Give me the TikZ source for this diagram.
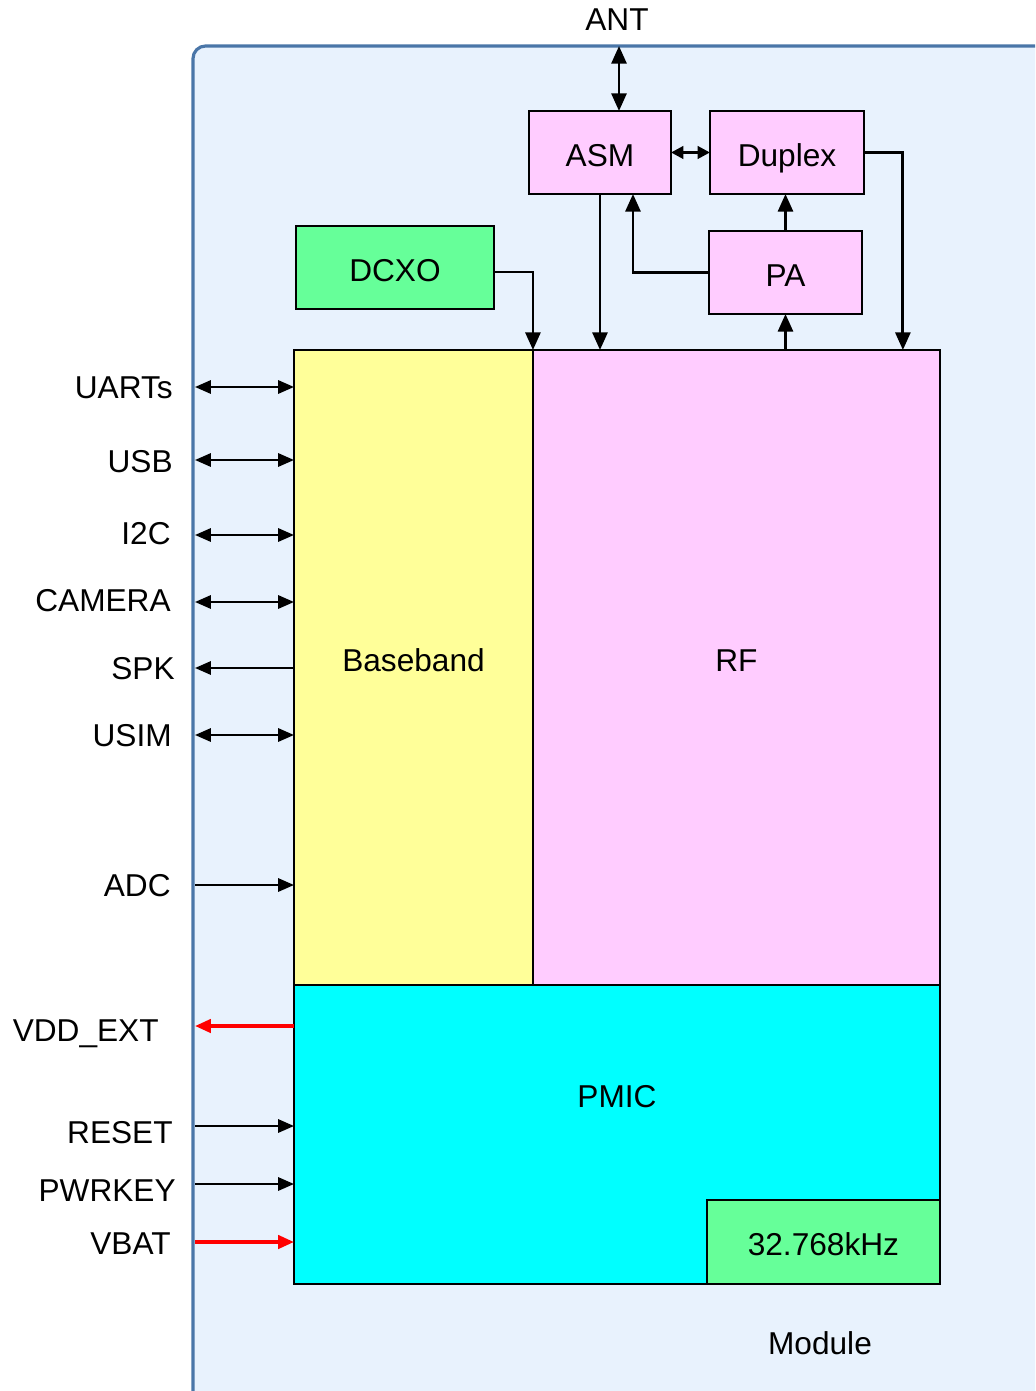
\documentclass[tikz,border=0pt]{standalone}
\usepackage{fontspec}
\setmainfont{Liberation Sans}
\usepackage{xcolor}
\usepackage{tikz}
\usetikzlibrary{arrows.meta,positioning,calc}
\definecolor{modfill}{HTML}{E8F2FD}
\definecolor{modline}{HTML}{4A76A8}
\definecolor{bbyel}{HTML}{FFFF99}
\definecolor{rfpink}{HTML}{FFCCFF}
\definecolor{xogreen}{HTML}{66FF99}
\definecolor{pmcyan}{HTML}{00FFFF}

\begin{document}
\begin{tikzpicture}[x=0.02cm,y=-0.02cm,font=\fontsize{18}{22}\selectfont]
        \tikzstyle{blk}=[draw,line width=0.8pt,outer sep=0pt,inner sep=0pt]
        \tikzstyle{sm}=[blk,fill=rfpink,minimum height=1.66cm,anchor=north west,text height=0.555cm,text depth=0pt]
        \tikzstyle{ar}=[line width=1.6pt,-{Triangle[length=10pt,width=8.5pt]}]
        \tikzstyle{dar}=[line width=1.6pt,{Triangle[length=10pt,width=8.5pt]}-{Triangle[length=10pt,width=8.5pt]}]
        \tikzstyle{la}=[line width=1.3pt,-{Triangle[length=9pt,width=7.5pt]}]
        \tikzstyle{dla}=[line width=1.3pt,{Triangle[length=9pt,width=7.5pt]}-{Triangle[length=9pt,width=7.5pt]}]
        \tikzstyle{pw}=[line width=2pt,red,-{Triangle[length=9pt,width=7.5pt]}]
        \tikzstyle{sig}=[anchor=base east,inner sep=0pt]
        \path[use as bounding box] (0,0) rectangle (1035,1391);
        \clip (0,0) rectangle (1035,1391);
        % module frame (runs off the page at right and bottom)
        \node[draw=modline,fill=modfill,line width=1.8pt,rounded corners=0.25cm,anchor=north west,
              minimum width=17.6cm,minimum height=27.8cm,outer sep=0pt] (mod) at (193,46) {};
        \node (modl) at (820,1343) {Module};
        % chip blocks
        \node[blk,fill=bbyel,anchor=north west,minimum width=4.78cm,minimum height=12.7cm,
              text height=0.455cm,text depth=0.28cm] (bb) at (294,350) {Baseband};
        \node[blk,fill=rfpink,right=0pt of bb,minimum width=8.14cm,minimum height=12.7cm,
              text height=0.455cm,text depth=0.28cm] (rf) {RF};
        \node[blk,fill=pmcyan,anchor=north west,minimum width=12.92cm,minimum height=5.98cm] (pmic) at (bb.south west) {};
        \node (pmicl) at (617,1097) {PMIC};
        \node[blk,fill=xogreen,anchor=south east,minimum width=4.66cm,minimum height=1.68cm,
              text height=0.555cm,text depth=0pt] (khz) at (pmic.south east) {32.768kHz};
        \node[sm,fill=xogreen,minimum width=3.96cm] (dcxo) at (296,226) {DCXO};
        \node[sm,minimum width=2.84cm] (asm) at (529,111) {ASM};
        \node[sm,minimum width=3.08cm] (dup) at (710,111) {Duplex};
        \node[sm,minimum width=3.06cm] (pa) at (709,231) {PA};
        % RF front end
        \node (ant) at (617,20) {ANT};
        \coordinate (antp) at (619,46);
        \draw[dar] (antp) -- (antp |- asm.north);
        \draw[line width=1.6pt,{Triangle[length=7pt,width=7pt]}-{Triangle[length=7pt,width=7pt]}] (asm.east) -- (dup.west);
        \draw[ar] (asm.south) -- (asm.south |- rf.north);
        \draw[ar] (pa.west) -| ([xshift=0.66cm]asm.south);
        \draw[ar] (pa.north) -- (pa.north |- dup.south);
        \draw[ar] (pa.south |- rf.north) -- (pa.south);
        \draw[ar] (dup.east) -| ([xshift=-0.74cm]rf.north east);
        \draw[ar] ([yshift=-0.09cm]dcxo.east) -| (rf.north west);
        % interfaces
        \node[sig] (uart) at (173,399) {UARTs};
        \node[sig] (usb) at (173,472) {USB};
        \node[sig] (i2c) at (171,544) {I2C};
        \node[sig] (cam) at (171,611) {CAMERA};
        \node[sig] (spk) at (175,679) {SPK};
        \node[sig] (usim) at (172,746) {USIM};
        \node[sig] (adc) at (171,896) {ADC};
        \node[sig] (vdd) at (159,1041) {VDD\_EXT};
        \node[sig] (rst) at (173,1143) {RESET};
        \node[sig] (pwk) at (176,1201) {PWRKEY};
        \node[sig] (vbat) at (171,1254) {VBAT};
        \coordinate (p1) at (195,387);
        \coordinate (p2) at (195,460);
        \coordinate (p3) at (195,535);
        \coordinate (p4) at (195,602);
        \coordinate (p5) at (195,668);
        \coordinate (p6) at (195,735);
        \coordinate (p7) at (195,885);
        \coordinate (p8) at (195,1026);
        \coordinate (p9) at (195,1126);
        \coordinate (p10) at (195,1184);
        \coordinate (p11) at (195,1242);
        \draw[dla] (p1) -- (bb.west |- p1);
        \draw[dla] (p2) -- (bb.west |- p2);
        \draw[dla] (p3) -- (bb.west |- p3);
        \draw[dla] (p4) -- (bb.west |- p4);
        \draw[la] (bb.west |- p5) -- (p5);
        \draw[dla] (p6) -- (bb.west |- p6);
        \draw[la] (p7) -- (bb.west |- p7);
        \draw[pw] (pmic.west |- p8) -- (p8);
        \draw[la] (p9) -- (pmic.west |- p9);
        \draw[la] (p10) -- (pmic.west |- p10);
        \draw[pw] (p11) -- (pmic.west |- p11);
\end{tikzpicture}
\end{document}
